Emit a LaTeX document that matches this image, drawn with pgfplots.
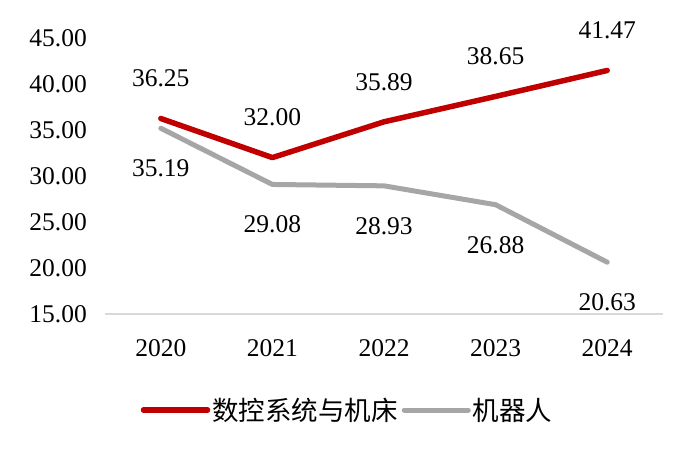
\documentclass[border=0pt]{standalone}
\usepackage{pgfplots}
\pgfplotsset{compat=1.18}
\usepackage{fontspec}
\setmainfont{Liberation Serif}
\newfontfamily\cjk{Noto Sans CJK SC}

\definecolor{cncred}{RGB}{192,0,0}
\definecolor{robgray}{RGB}{166,166,166}
\definecolor{axgray}{RGB}{217,217,217}

\begin{document}
\begin{tikzpicture}
  % fixed page: 700 x 457, axis box from (105,143) to (663,419)
  \path[use as bounding box] (-105pt,-143pt) rectangle (595pt,314pt);
  \begin{axis}[
    scale only axis,
    width=558pt, height=276pt,
    xmin=-0.5, xmax=4.5,
    ymin=15, ymax=45,
    ytick={15,20,25,30,35,40,45},
    xtick={0,1,2,3,4},
    xticklabels={2020,2021,2022,2023,2024},
    axis x line=bottom, axis y line=left,
    axis line style={-},
    x axis line style={draw=axgray, line width=1.5pt},
    y axis line style={draw=none},
    major tick length=0pt,
    clip=false,
    /pgf/number format/assume math mode=true,
    /pgf/number format/fixed,
    /pgf/number format/fixed zerofill,
    /pgf/number format/precision=2,
    tick label style={font=\fontsize{25.5}{30}\selectfont, text=black},
    yticklabel style={anchor=east, inner sep=0pt, xshift=-18pt},
    xticklabel style={anchor=center, inner sep=0pt, yshift=-34pt},
    nodes near coords,
    nodes near coords style={font=\fontsize{25.5}{30}\selectfont, anchor=center,
      inner sep=0pt, text=black},
    legend style={at={(0.4346,-0.348)}, anchor=center, draw=none, fill=none,
      font=\cjk\fontsize{26.5}{30}\selectfont, legend columns=-1,
      /tikz/every even column/.append style={column sep=2pt}},
    legend image code/.code={\draw[#1, line cap=round] (0pt,0pt) -- (64pt,0pt);},
  ]
    \addplot[color=cncred, line width=5.5pt, line cap=round, line join=round,
      nodes near coords style={yshift=40pt}]
      coordinates {(0,36.25) (1,32.00) (2,35.89) (3,38.65) (4,41.47)};
    \addlegendentry{数控系统与机床}
    \addplot[color=robgray, line width=5pt, line cap=round, line join=round,
      nodes near coords style={yshift=-40pt}]
      coordinates {(0,35.19) (1,29.08) (2,28.93) (3,26.88) (4,20.63)};
    \addlegendentry{机器人}
  \end{axis}
\end{tikzpicture}
\end{document}
